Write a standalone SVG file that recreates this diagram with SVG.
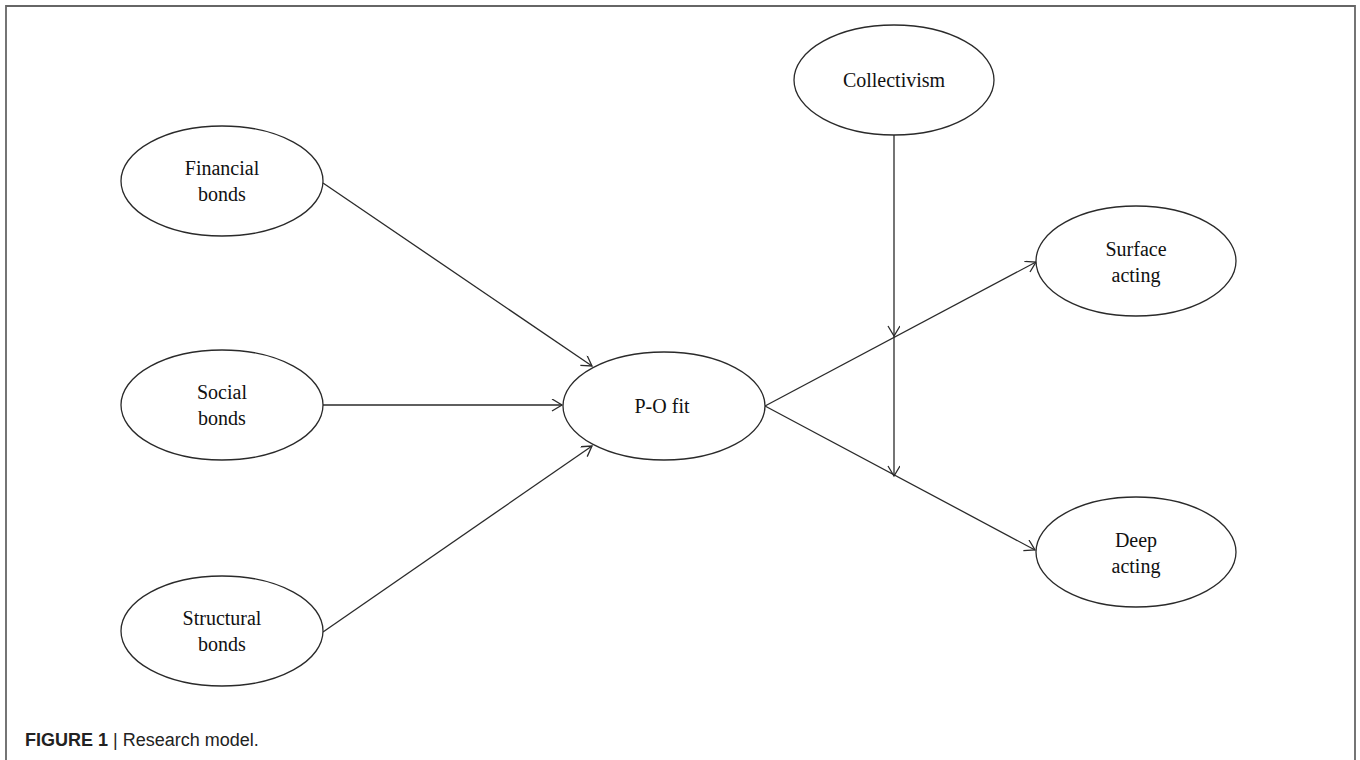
<svg xmlns="http://www.w3.org/2000/svg" width="1360" height="760" viewBox="0 0 1360 760">
<style>
.node ellipse{fill:#fff;stroke:#2a2a2a;stroke-width:1.3}
.node text{font-family:"Liberation Serif","Times New Roman",serif;font-size:20px;fill:#111;text-anchor:middle}
.conn line{stroke:#2a2a2a;stroke-width:1.3;marker-end:url(#arr)}
.cap{font-family:"Liberation Sans",Arial,sans-serif;font-size:18px;fill:#222}
</style>
<defs>
<marker id="arr" markerUnits="userSpaceOnUse" markerWidth="14" markerHeight="14" refX="11" refY="6" orient="auto">
<path d="M1,0 L11,6 L1,12" fill="none" stroke="#2a2a2a" stroke-width="1.3"/>
</marker>
</defs>
<rect width="1360" height="760" fill="#fff"/>
<path d="M6,770 L6,6 L1355,6 L1355,770" fill="none" stroke="#666" stroke-width="1.8"/>
<g id="connectors" class="conn">
<line x1="323" y1="183" x2="592" y2="366"/>
<line x1="323" y1="405" x2="562" y2="405"/>
<line x1="323" y1="632" x2="592" y2="446"/>
<line x1="765" y1="406" x2="1036" y2="262"/>
<line x1="765" y1="406" x2="1035" y2="550"/>
<line x1="894" y1="135" x2="894" y2="336"/>
<line x1="894" y1="336" x2="894" y2="476"/>
</g>
<g id="financial" class="node">
<ellipse cx="222" cy="181" rx="101" ry="55"/>
<text x="222" y="175">Financial</text>
<text x="222" y="201">bonds</text>
</g>
<g id="social" class="node">
<ellipse cx="222" cy="405" rx="101" ry="55"/>
<text x="222" y="399">Social</text>
<text x="222" y="425">bonds</text>
</g>
<g id="structural" class="node">
<ellipse cx="222" cy="631" rx="101" ry="55"/>
<text x="222" y="625">Structural</text>
<text x="222" y="651">bonds</text>
</g>
<g id="pofit" class="node">
<ellipse cx="664" cy="406" rx="101" ry="54"/>
<text x="662" y="413">P-O fit</text>
</g>
<g id="collectivism" class="node">
<ellipse cx="894" cy="80" rx="100" ry="55"/>
<text x="894" y="87">Collectivism</text>
</g>
<g id="surface" class="node">
<ellipse cx="1136" cy="261" rx="100" ry="55"/>
<text x="1136" y="256">Surface</text>
<text x="1136" y="282">acting</text>
</g>
<g id="deep" class="node">
<ellipse cx="1136" cy="552" rx="100" ry="55"/>
<text x="1136" y="547">Deep</text>
<text x="1136" y="573">acting</text>
</g>
<text class="cap" x="25" y="746"><tspan font-weight="bold">FIGURE 1</tspan> | Research model.</text>
</svg>
